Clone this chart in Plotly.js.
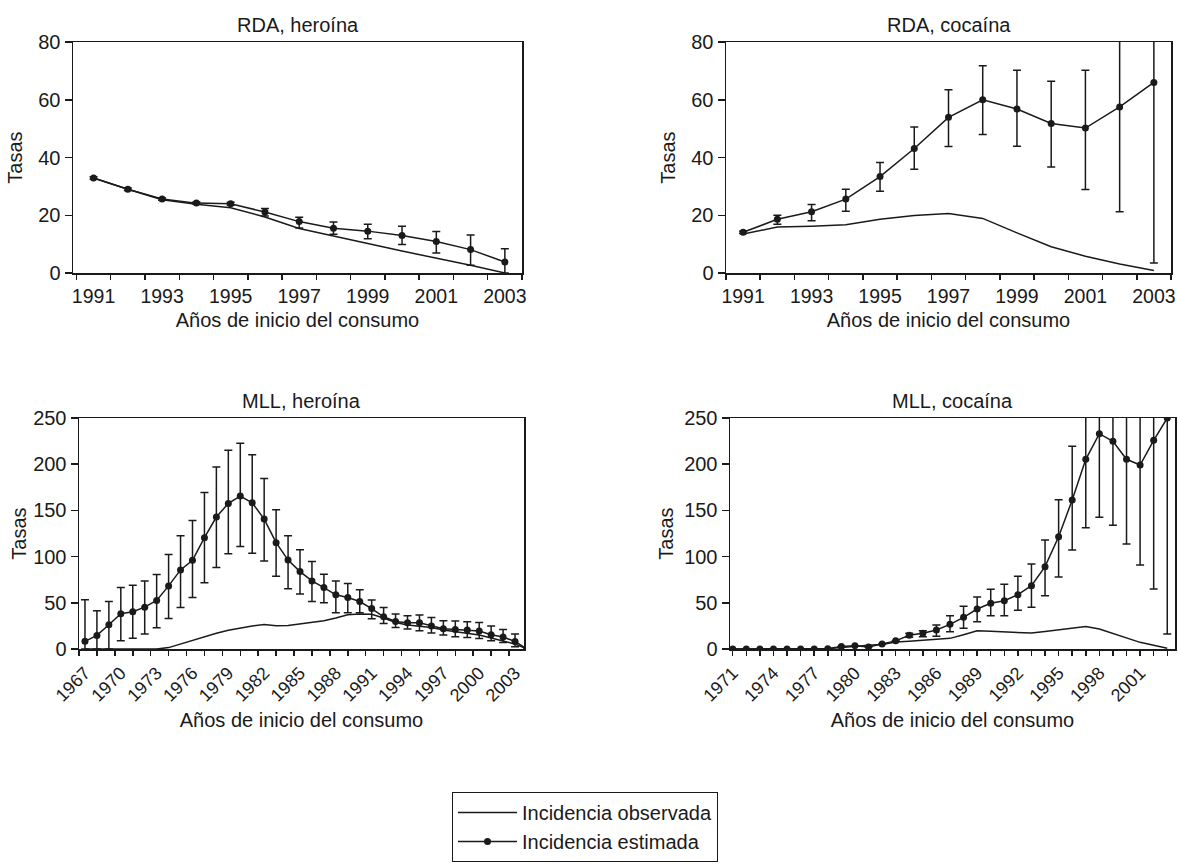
<!DOCTYPE html>
<html>
<head>
<meta charset="utf-8">
<script src="https://cdn.plot.ly/plotly-3.0.1.min.js"></script>
<style>
html,body{margin:0;padding:0;background:#ffffff;}
#chart{width:1178px;height:865px;}
</style>
</head>
<body>
<div id="chart"></div>
<script>
// ---------------- DATA ----------------
const rdaYears = [1991,1992,1993,1994,1995,1996,1997,1998,1999,2000,2001,2002,2003];
const rdaTickVals = [1991,1993,1995,1997,1999,2001,2003];
const rdaTickText = ['1991','1993','1995','1997','1999','2001','2003'];

const rdaHeroinaObserved  = [32.9,29.0,25.4,23.8,22.6,19.4,15.4,12.7,10.2,7.6,5.2,2.7,0];
const rdaHeroinaEstimated = [32.9,29.0,25.6,24.2,24.0,21.1,17.8,15.5,14.5,13.0,10.9,8.1,3.8];
const rdaHeroinaUpper     = [33.3,29.4,26.0,24.6,24.5,22.3,19.3,17.7,16.9,16.2,14.4,13.2,8.4];
const rdaHeroinaLower     = [32.5,28.6,25.2,23.8,23.5,19.7,15.6,13.4,11.9,9.9,6.9,2.7,0];

const rdaCocainaObserved  = [13.5,15.9,16.2,16.7,18.6,19.9,20.6,18.9,13.9,9.1,5.8,3.1,0.9];
const rdaCocainaEstimated = [14.1,18.6,21.2,25.6,33.4,43.1,53.9,60.0,56.8,51.8,50.2,57.5,66.0];
const rdaCocainaUpper     = [14.5,20.0,23.7,29.0,38.3,50.6,63.5,71.8,70.2,66.4,70.2,100,100];
const rdaCocainaLower     = [13.7,16.9,18.1,21.4,28.3,35.9,43.8,48.0,43.9,36.7,28.9,21.2,3.5];

const mllHeroinaYears = [1967,1968,1969,1970,1971,1972,1973,1974,1975,1976,1977,1978,1979,1980,1981,1982,1983,1984,1985,1986,1987,1988,1989,1990,1991,1992,1993,1994,1995,1996,1997,1998,1999,2000,2001,2002,2003,2004];
const mllHeroinaTickVals = [1967,1970,1973,1976,1979,1982,1985,1988,1991,1994,1997,2000,2003];
const mllHeroinaTickText = ['1967','1970','1973','1976','1979','1982','1985','1988','1991','1994','1997','2000','2003'];
const mllHeroinaObserved  = [0,0,0,0,0,0,0,1.5,5.5,9.5,13.5,17,20.3,22.7,24.8,26.5,25.2,25.5,27,28.5,30.5,33.5,37,38,37.5,33.5,28.7,26,25,23.3,20.5,18.7,16.9,15.1,11.9,9.0,5.4,0];
const mllHeroinaEstimated = [8.3,14.7,26.3,38.1,40.3,45.3,52.5,68.3,85.6,96.0,120.5,142.8,157.6,165.5,158.3,140.6,115.1,96.2,83.8,73.7,66.5,58.6,55.7,51.4,43.8,34.9,29.8,28.4,28.4,24.8,21.9,21.2,20.5,19.4,15.4,12.9,8.2,0];
const mllHeroinaUpper     = [53.2,41.4,51.4,66.5,69.1,73.7,80.6,102.2,122.7,139.2,169.4,197.1,215.1,222.7,210.1,184.5,150.7,122.5,107.5,94.6,81,73.7,70.8,64,52.9,44.9,37.8,35.9,36.7,34.1,30.5,30.2,29.5,28.7,24.8,21.2,16.2,0];
const mllHeroinaLower     = [0,0,0,9.0,11.5,16.2,23.0,33.1,45.0,55.8,71.6,88.1,103.2,110.8,103.6,95.3,78.8,65.2,59.4,51.4,50,39.2,39.2,39.2,32.7,27.6,23.3,21.6,19.8,17.3,15.1,13.3,12.5,11.4,9.0,7.1,2.5,0];

const mllCocainaYears = [1971,1972,1973,1974,1975,1976,1977,1978,1979,1980,1981,1982,1983,1984,1985,1986,1987,1988,1989,1990,1991,1992,1993,1994,1995,1996,1997,1998,1999,2000,2001,2002,2003];
const mllCocainaTickVals = [1971,1974,1977,1980,1983,1986,1989,1992,1995,1998,2001];
const mllCocainaTickText = ['1971','1974','1977','1980','1983','1986','1989','1992','1995','1998','2001'];
const mllCocainaObserved  = [0,0,0,0,0,0,0,0.5,1.5,3,4,5,7.5,8.5,9.5,10.5,11.5,15.5,19.8,19.2,18.6,18,17.2,19,21,22.5,24.4,21.6,16.8,12,7.2,4,0.8];
const mllCocainaEstimated = [0,0,0,0,0,0,0,0.4,2.6,3.6,2.2,5.5,8.8,14.8,17,20.6,26.7,34.3,43.3,49.5,52.3,58.8,68.5,89.1,121.5,161.3,205.3,233,224.8,205.3,199.1,225.8,250];
const mllCocainaUpper     = [0,0,0,0,0,0,0,0.4,2.6,3.6,2.2,5.5,8.8,17.0,19.8,26.0,36.1,46.2,56.3,64.6,70.0,78.6,91.9,118.0,161.6,219.4,300,300,300,300,300,300,300];
const mllCocainaLower     = [0,0,0,0,0,0,0,0.4,2.6,3.6,2.2,5.5,8.8,12.8,13.3,13.7,18.8,22.4,29.6,36.1,36.1,41.9,45.1,57.7,78.0,107.1,131.3,142.5,133.9,113.6,90.9,64.9,16.2];

const panelTitles = ['RDA, heroína','RDA, cocaína','MLL, heroína','MLL, cocaína'];
const xTitle = 'Años de inicio del consumo';
const yTitle = 'Tasas';
const legendNames = ['Incidencia observada','Incidencia estimada'];

// ---------------- STYLE / LAYOUT ----------------
const W = 1178, H = 865;
const INK = '#1a1a1a';
const FAM = 'Liberation Sans, Arial, sans-serif';
const FS = 20;
const font = {family: FAM, size: FS, color: INK};
const xTickFont = {family: FAM, size: 19.5, color: INK};
const rotTickFont = {family: FAM, size: 18, color: INK};

function dxr(a, b) { return [a / W, b / W]; }
function dyr(top, bottom) { return [(H - bottom) / H, (H - top) / H]; }

const boxes = [
  {x0: 73,  x1: 522,  y0: 42,  y1: 273},
  {x0: 726, x1: 1171, y0: 42,  y1: 273},
  {x0: 79,  x1: 524,  y0: 418, y1: 649},
  {x0: 730, x1: 1175, y0: 418, y1: 649}
];

function errArrays(est, up, lo) {
  return {
    type: 'data', symmetric: false,
    array: est.map((v, i) => Math.max(0, up[i] - v)),
    arrayminus: est.map((v, i) => Math.max(0, v - lo[i])),
    color: INK, thickness: 1.5, width: 4
  };
}

const panels = [
  {x: rdaYears, obs: rdaHeroinaObserved, est: rdaHeroinaEstimated, up: rdaHeroinaUpper, lo: rdaHeroinaLower},
  {x: rdaYears, obs: rdaCocainaObserved, est: rdaCocainaEstimated, up: rdaCocainaUpper, lo: rdaCocainaLower},
  {x: mllHeroinaYears, obs: mllHeroinaObserved, est: mllHeroinaEstimated, up: mllHeroinaUpper, lo: mllHeroinaLower},
  {x: mllCocainaYears, obs: mllCocainaObserved, est: mllCocainaEstimated, up: mllCocainaUpper, lo: mllCocainaLower}
];

const data = [];
panels.forEach((p, i) => {
  const xa = i === 0 ? 'x' : 'x' + (i + 1);
  const ya = i === 0 ? 'y' : 'y' + (i + 1);
  data.push({
    type: 'scatter', mode: 'lines', x: p.x, y: p.obs, xaxis: xa, yaxis: ya,
    name: legendNames[0], showlegend: i === 0, legendrank: 1,
    line: {color: INK, width: 1.5}, hoverinfo: 'skip'
  });
  data.push({
    type: 'scatter', mode: 'lines+markers', x: p.x, y: p.est, xaxis: xa, yaxis: ya,
    name: legendNames[1], showlegend: i === 0, legendrank: 2,
    line: {color: INK, width: 1.5},
    marker: {color: INK, size: 7},
    error_y: errArrays(p.est, p.up, p.lo), hoverinfo: 'skip'
  });
});

function baseAxis() {
  return {
    showline: true, linecolor: INK, linewidth: 1.5, mirror: true,
    showgrid: false, zeroline: false, fixedrange: true,
    ticks: 'outside', tickcolor: INK, tickwidth: 1.5,
    tickfont: font
  };
}

function xAxis(i, range, tickvals, ticktext, opts) {
  const b = boxes[i];
  return Object.assign(baseAxis(), {
    domain: dxr(b.x0, b.x1), anchor: i === 0 ? 'y' : 'y' + (i + 1),
    range: range, tickmode: 'array', tickvals: tickvals, ticktext: ticktext,
    ticklen: 5, tickfont: xTickFont,
    title: {text: xTitle, font: font, standoff: opts.standoff}
  }, opts.extra);
}

function yAxis(i, range, tickvals, standoff) {
  const b = boxes[i];
  return Object.assign(baseAxis(), {
    domain: dyr(b.y0, b.y1), anchor: i === 0 ? 'x' : 'x' + (i + 1),
    range: range, tickmode: 'array', tickvals: tickvals,
    ticklen: 7,
    title: {text: yTitle, font: font, standoff: standoff}
  });
}

const hiddenMajor = 'rgba(0,0,0,0)';
const minorBase = {ticks: 'outside', ticklen: 5, tickwidth: 1.5, tickcolor: INK, showgrid: false, tickmode: 'linear'};

const layout = {
  width: W, height: H,
  margin: {l: 0, r: 0, t: 0, b: 0, pad: 0},
  paper_bgcolor: '#ffffff', plot_bgcolor: '#ffffff',
  font: font,
  showlegend: true,
  xaxis: xAxis(0, [1990.4, 2003.5], rdaTickVals, rdaTickText, {standoff: 7,
    extra: {tickcolor: hiddenMajor, minor: Object.assign({}, minorBase, {tick0: 1990.5, dtick: 1})}}),
  xaxis2: xAxis(1, [1990.5, 2003.5], rdaTickVals, rdaTickText, {standoff: 7,
    extra: {tickcolor: hiddenMajor, minor: Object.assign({}, minorBase, {tick0: 1990.5, dtick: 1})}}),
  xaxis3: xAxis(2, [1966.5, 2003.75], mllHeroinaTickVals, mllHeroinaTickText, {standoff: 8,
    extra: {tickangle: -45, tickfont: rotTickFont, tickcolor: hiddenMajor,
      minor: Object.assign({}, minorBase, {tick0: 1966.5, dtick: 1.5})}}),
  xaxis4: xAxis(3, [1970.8, 2003.57], mllCocainaTickVals, mllCocainaTickText, {standoff: 8,
    extra: {tickangle: -45, tickfont: rotTickFont,
      minor: Object.assign({}, minorBase, {tick0: 1971, dtick: 1})}}),
  yaxis: yAxis(0, [0, 80], [0, 20, 40, 60, 80], 10),
  yaxis2: yAxis(1, [0, 80], [0, 20, 40, 60, 80], 10),
  yaxis3: yAxis(2, [0, 250], [0, 50, 100, 150, 200, 250], 1),
  yaxis4: yAxis(3, [0, 250], [0, 50, 100, 150, 200, 250], 5),
  annotations: panelTitles.map((t, i) => {
    const b = boxes[i];
    const cy = i < 2 ? 25 : 401.5;
    return {
      text: t, xref: 'paper', yref: 'paper',
      x: ((b.x0 + b.x1) / 2) / W, y: (H - cy) / H,
      xanchor: 'center', yanchor: 'middle', showarrow: false, font: font
    };
  }),
  legend: {
    x: 452 / W, y: (H - 792) / H, xanchor: 'left', yanchor: 'top',
    bordercolor: INK, borderwidth: 1, bgcolor: '#ffffff',
    font: font, itemwidth: 59, traceorder: 'normal', tracegroupgap: 0
  }
};

Plotly.newPlot('chart', data, layout, {staticPlot: true, displayModeBar: false});
</script>
</body>
</html>
